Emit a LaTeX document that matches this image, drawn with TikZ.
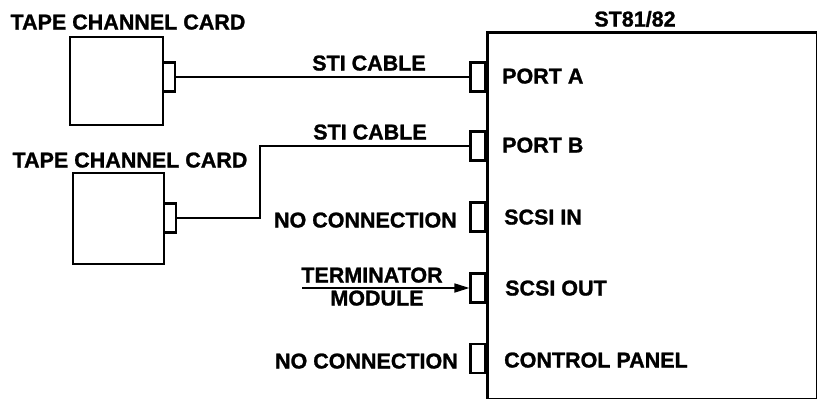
\documentclass[tikz,border=0pt]{standalone}
\usepackage{fontspec}
\setmainfont{Liberation Sans}
\newfontfamily\heavyfont{Liberation Sans Bold}[FakeBold=1.2]
\usetikzlibrary{arrows.meta}
\tikzset{
  lbl/.style={font=\fontsize{21.5}{25}\heavyfont, inner sep=0pt, text height=15pt, text depth=0pt},
  card/.style={draw, line width=2.4pt, minimum width=#1, inner sep=0pt},
  tab/.style={draw, line width=2.2pt, inner sep=0pt, minimum width=12pt, minimum height=29pt},
  port/.style={draw, line width=2.2pt, inner sep=0pt, minimum width=15pt, minimum height=29pt},
  cable/.style={line width=1.7pt},
  frame/.style={line width=2.6pt}
}
\begin{document}
\begin{tikzpicture}[x=1pt,y=-1pt]
\useasboundingbox (0,0) rectangle (817,399);
% main unit
\node[draw, frame, minimum width=330pt, minimum height=367pt, inner sep=0pt, anchor=north west] (unit) at (486,31) {};
\node[lbl] (unitlbl) at (635,19) {ST81/82};
% cards
\node[card=93pt, minimum height=88pt] (card1) at (116.5,81) {};
\node[tab] (tab1) at (169,77) {};
\node[lbl] (title1) at (128,22) {TAPE CHANNEL CARD};
\node[card=91pt, minimum height=91pt] (card2) at (118.5,218.5) {};
\node[tab] (tab2) at (170,218) {};
\node[lbl] (title2) at (130,160) {TAPE CHANNEL CARD};
% ports
\node[port] (pa) at (478,77) {};
\node[port] (pb) at (478,146) {};
\node[port] (psi) at (478,217) {};
\node[port] (pso) at (478,288) {};
\node[port] (pcp) at (478,358.5) {};
\node[lbl, anchor=west] (la) at (502,76) {PORT A};
\node[lbl, anchor=west] (lb) at (502,145) {PORT B};
\node[lbl, anchor=west] (lsi) at (504,217) {SCSI IN};
\node[lbl, anchor=west] (lso) at (505,288) {SCSI OUT};
\node[lbl, anchor=west] (lcp) at (504,360) {CONTROL PANEL};
% cables
\draw[cable] (tab1.east) -- (pa.west);
\node[lbl] (sti1) at (369,63) {STI CABLE};
\coordinate (bend) at (260,146);
\draw[cable] (tab2.east) -| (bend) -- (pb.west);
\node[lbl] (sti2) at (370,132) {STI CABLE};
% no connections
\node[lbl, anchor=east] (nc1) at (457,220) {NO CONNECTION};
\node[lbl, anchor=east] (nc2) at (458,361) {NO CONNECTION};
% terminator
\node[lbl] (term) at (372,275) {TERMINATOR};
\node[lbl] (mod) at (377,298) {MODULE};
\coordinate (tstart) at (302,288);
\draw[cable, -{Triangle[length=15pt,width=9pt]}] (tstart) -- (pso.west);
\end{tikzpicture}
\end{document}
